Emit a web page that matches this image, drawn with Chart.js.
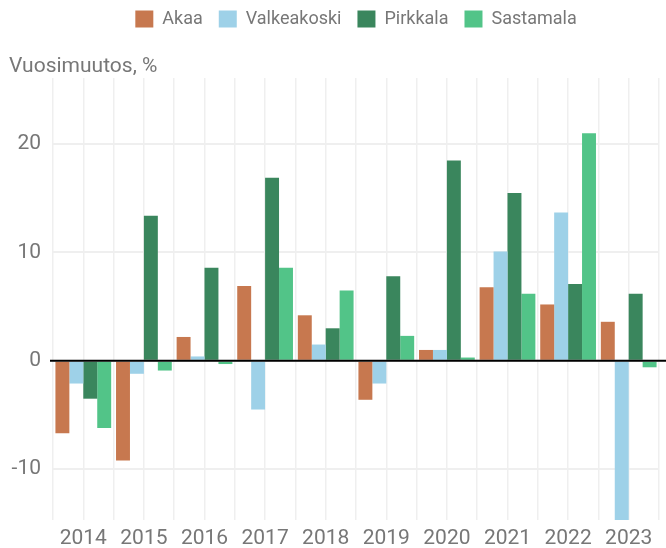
<!DOCTYPE html>
<html>
<head>
<meta charset="utf-8">
<script src="https://cdn.jsdelivr.net/npm/chart.js@4/dist/chart.umd.min.js"></script>
<style>
  html, body { margin: 0; padding: 0; background: #fff; }
  #wrap { width: 666px; height: 548px; }
</style>
</head>
<body>
<div id="wrap"><canvas id="chart"></canvas></div>
<script>
var years = ["2014", "2015", "2016", "2017", "2018", "2019", "2020", "2021", "2022", "2023"];
var akaa = [-6.7, -9.2, 2.2, 6.9, 4.2, -3.6, 1.0, 6.8, 5.2, 3.6];
var valkeakoski = [-2.1, -1.2, 0.4, -4.5, 1.5, -2.1, 1.0, 10.1, 13.7, -17.0];
var pirkkala = [-3.5, 13.4, 8.6, 16.9, 3.0, 7.8, 18.5, 15.5, 7.1, 6.2];
var sastamala = [-6.2, -0.9, -0.3, 8.6, 6.5, 2.3, 0.3, 6.2, 21.0, -0.6];
var yTicks = [-10, 0, 10, 20];

var gridColor = "#efefef";
var textColor = "#777777";

Chart.defaults.font.family = "Roboto";

// black line at zero, drawn on top of the bars
var zeroLine = {
    id: "zeroLine",
    afterDatasetsDraw: function (chart) {
        var y = chart.scales.y.getPixelForValue(0);
        var ctx = chart.ctx;
        ctx.save();
        ctx.strokeStyle = "#000";
        ctx.lineWidth = 2;
        ctx.beginPath();
        ctx.moveTo(chart.chartArea.left - 3, y);
        ctx.lineTo(chart.width, y);
        ctx.stroke();
        ctx.restore();
    }
};

function bar(label, data, color) {
    return {
        label: label,
        data: data,
        backgroundColor: color,
        borderWidth: 0,
        categoryPercentage: 0.92,
        barPercentage: 1
    };
}

new Chart(document.getElementById("chart"), {
    type: "bar",
    data: {
        labels: years,
        datasets: [
            bar("Akaa", akaa, "#c7784f"),
            bar("Valkeakoski", valkeakoski, "#9ed1e8"),
            bar("Pirkkala", pirkkala, "#3a865d"),
            bar("Sastamala", sastamala, "#52c488")
        ]
    },
    options: {
        responsive: true,
        maintainAspectRatio: false,
        animation: false,
        layout: {padding: {left: 9, right: 7, top: -6, bottom: 0}},
        plugins: {
            tooltip: {enabled: false},
            legend: {
                position: "top",
                fullSize: false,
                weight: 1000,
                labels: {
                    boxWidth: 18,
                    boxHeight: 17,
                    padding: 16,
                    color: textColor,
                    font: {size: 18}
                }
            },
            title: {
                display: true,
                text: "Vuosimuutos, %",
                align: "start",
                weight: 500,
                color: textColor,
                font: {size: 21, weight: "normal", lineHeight: 1.1},
                padding: {top: 17, bottom: 0}
            }
        },
        scales: {
            x: {
                offset: true,
                border: {display: false},
                grid: {offset: true, color: gridColor, lineWidth: 1.5, drawTicks: false},
                ticks: {color: textColor, font: {size: 21}, padding: 6, maxRotation: 0},
                afterFit: function (axis) {
                    axis.height = 28;
                }
            },
            x2: {
                type: "category",
                position: "bottom",
                offset: true,
                border: {display: false},
                grid: {offset: false, color: gridColor, lineWidth: 1.5, drawTicks: false},
                ticks: {display: false}
            },
            y: {
                min: -14.7,
                max: 26.1,
                border: {display: false},
                afterBuildTicks: function (axis) {
                    axis.ticks = yTicks.map(function (v) { return {value: v}; });
                },
                afterFit: function (axis) {
                    axis.width = 44;
                },
                grid: {color: gridColor, lineWidth: 2, drawTicks: false},
                ticks: {color: textColor, font: {size: 21}, padding: 12}
            }
        }
    },
    plugins: [zeroLine]
});
</script>
</body>
</html>
